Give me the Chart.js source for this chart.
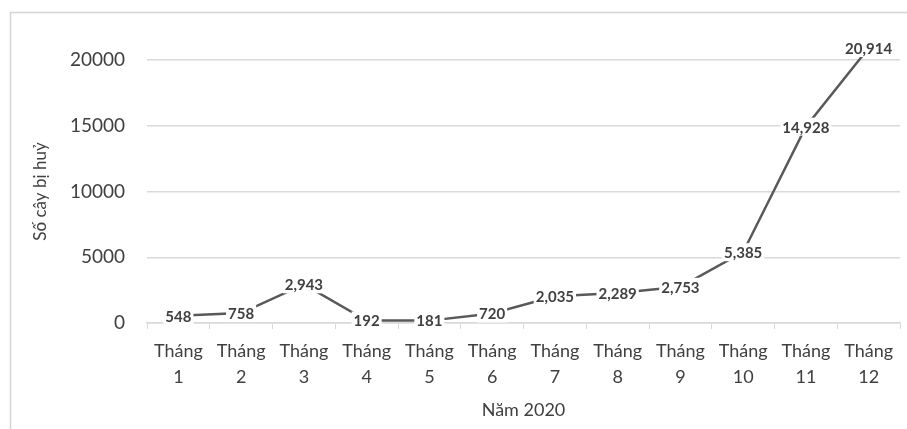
<!DOCTYPE html>
<html>
<head>
<meta charset="utf-8">
<script src="https://cdn.jsdelivr.net/npm/chart.js@4/dist/chart.umd.min.js"></script>
<style>
  html, body { margin: 0; padding: 0; background: #ffffff; }
  #wrap { width: 907px; height: 429px; position: relative; }
</style>
</head>
<body>
<div id="wrap"><canvas id="c" width="907" height="429"></canvas></div>
<script>
// Monthly counts of destroyed trees, 2020
const months = ['1', '2', '3', '4', '5', '6', '7', '8', '9', '10', '11', '12'];
const treesDestroyed = [548, 758, 2943, 192, 181, 720, 2035, 2289, 2753, 5385, 14928, 20914];
const yTicks = [0, 5000, 10000, 15000, 20000];

const FONT = 'Lato, "Liberation Sans", sans-serif';
const TEXT = '#404040';
const GRID = '#d9d9d9';

// Thin frame along the top and left edges
const framePlugin = {
  id: 'frame',
  beforeDraw(chart) {
    const ctx = chart.ctx;
    ctx.save();
    ctx.strokeStyle = '#d4d4d4';
    ctx.lineWidth = 1.5;
    ctx.beginPath();
    ctx.moveTo(10.5, 429);
    ctx.lineTo(10.5, 12.5);
    ctx.lineTo(907, 12.5);
    ctx.stroke();
    ctx.restore();
  }
};

// Value labels centred on each point, on a white box that hides the line
const valueLabels = {
  id: 'valueLabels',
  afterDatasetsDraw(chart) {
    const ctx = chart.ctx;
    const meta = chart.getDatasetMeta(0);
    const data = chart.data.datasets[0].data;
    ctx.save();
    ctx.font = 'bold 15px ' + FONT;
    ctx.textAlign = 'center';
    ctx.textBaseline = 'middle';
    meta.data.forEach((pt, i) => {
      const txt = data[i].toLocaleString('en-US');
      const w = ctx.measureText(txt).width;
      ctx.fillStyle = '#ffffff';
      ctx.fillRect(pt.x - w / 2 - 2, pt.y - 9, w + 4, 18);
      ctx.fillStyle = TEXT;
      ctx.fillText(txt, pt.x, pt.y + 1);
    });
    ctx.restore();
  }
};

new Chart(document.getElementById('c'), {
  type: 'line',
  data: {
    labels: months.map(m => ['Tháng', m]),
    datasets: [{
      data: treesDestroyed,
      borderColor: '#595959',
      borderWidth: 2.5,
      pointRadius: 0,
      tension: 0,
      clip: false
    }]
  },
  options: {
    responsive: false,
    animation: false,
    devicePixelRatio: 1,
    layout: { padding: { left: 30, top: 60, right: 7, bottom: 0 } },
    plugins: { legend: { display: false }, tooltip: { enabled: false } },
    scales: {
      x: {
        offset: true,
        grid: { offset: true, drawOnChartArea: false, color: GRID, tickLength: 6 },
        border: { color: GRID, width: 1.5 },
        ticks: { color: TEXT, font: { family: FONT, size: 18, lineHeight: 1.44 }, padding: 9, maxRotation: 0 },
        title: { display: true, text: 'Năm 2020', color: TEXT, font: { family: FONT, size: 18 }, padding: { top: 0, bottom: 8 } },
        afterFit(scale) { scale.height = 106; }
      },
      y: {
        min: 0,
        max: 20000,
        afterBuildTicks(scale) { scale.ticks = yTicks.map(v => ({ value: v })); },
        grid: { color: GRID, lineWidth: 1.5, drawTicks: false },
        border: { display: false },
        ticks: { color: TEXT, font: { family: FONT, size: 19 }, padding: 22, callback: v => String(v) },
        title: { display: true, text: 'Số cây bị huỷ', color: TEXT, font: { family: FONT, size: 17 }, padding: { top: 0, bottom: 0 } },
        afterFit(scale) { scale.width = 117; }
      }
    }
  },
  plugins: [framePlugin, valueLabels]
});
</script>
</body>
</html>
